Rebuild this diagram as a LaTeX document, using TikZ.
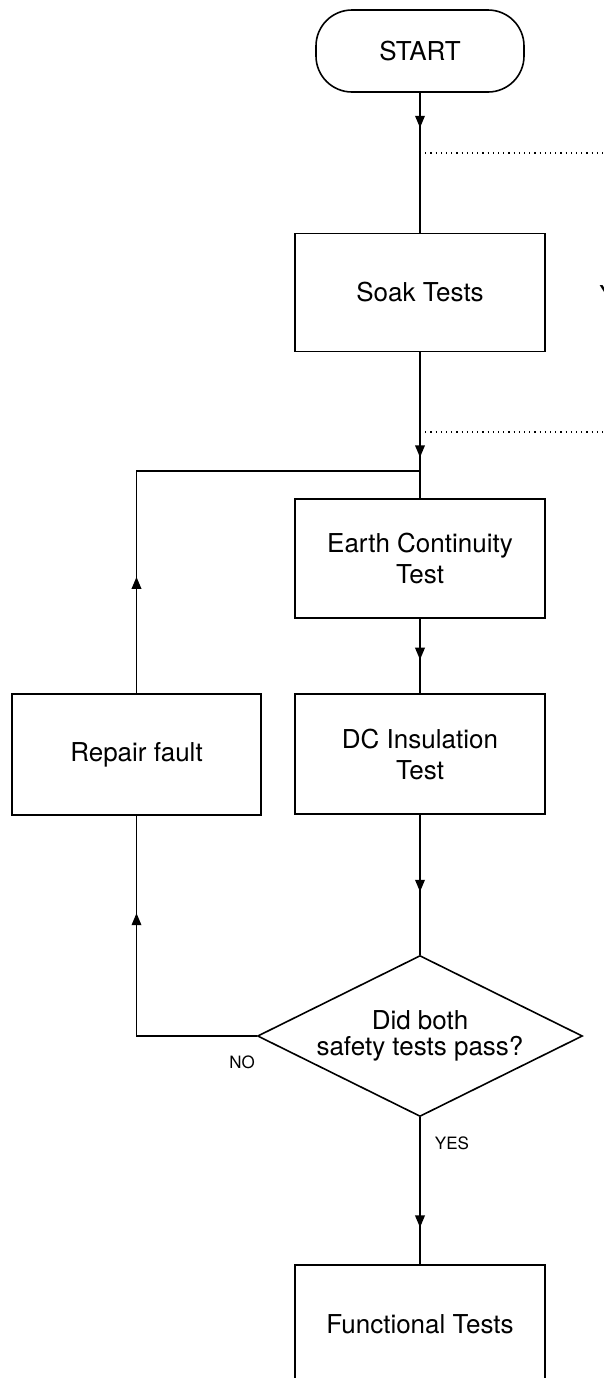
\documentclass[tikz,border=0pt]{standalone}
\usepackage{fontspec}
\setmainfont{TeX Gyre Heros}
\usetikzlibrary{shapes.geometric,arrows.meta,decorations.markings}

\tikzset{
  testbox/.style={draw, line width=0.8pt, minimum width=125pt, minimum height=59pt, inner sep=1pt, align=center, font=\fontsize{13}{15.5}\selectfont},
  midarrow/.style={postaction={decorate}, decoration={markings, mark=at position #1 with {\arrow{Triangle[length=6pt,width=4.8pt]}}}},
  flowline/.style={line width=0.8pt},
  smalllabel/.style={inner sep=0pt, font=\fontsize{8.5}{10}\selectfont}
}

\begin{document}
\begin{tikzpicture}[x=0.5pt,y=-0.5pt]
\useasboundingbox (0,0) rectangle (604,1378);

% Terminal
\node (start) at (420,51) [draw, line width=0.8pt, rounded corners=18pt, minimum width=104pt, minimum height=41pt, font=\fontsize{13}{15.5}\selectfont] {START};

% Boxes
\node (soak) at (420,292.5) [testbox] {Soak Tests};
\node (earth) at (420,558.5) [testbox, minimum height=59.5pt] {Earth Continuity\\Test};
\node (dc) at (420,754) [testbox, minimum height=60pt] {DC Insulation\\Test};
\node (repair) at (136.5,754.5) [testbox, minimum width=124.5pt, minimum height=60.5pt] {Repair fault};
\node (func) at (420,1324) [testbox] {Functional Tests};

% Decision
\node (pass) at (420,1036) [draw, line width=0.8pt, diamond, aspect=2, inner sep=0pt, minimum width=162.5pt, minimum height=80.5pt, align=center, font=\fontsize{13}{13}\selectfont] {Did both\\safety tests pass?};

% Text Node
\node (no) at (242,1062) [smalllabel] {NO};
% Text Node
\node (yes) at (452,1143) [smalllabel] {YES};
% Text Node (cut off at the edge)
\node (cut) at (599,304) [anchor=base west, inner sep=0pt, font=\fontsize{13}{15.5}\selectfont] {Y};

% Coordinates
\coordinate (dotA) at (420,153);
\coordinate (dotAend) at (604,153);
\coordinate (dotB) at (420,432);
\coordinate (dotBend) at (604,432);
\coordinate (join) at (420,471);

% Connection
\draw [flowline, midarrow=0.25] (start.south) -- (soak.north);
% Connection
\draw [flowline, midarrow=0.72] (soak.south) -- (earth.north);
% Connection
\draw [flowline, midarrow=0.55] (earth.south) -- (dc.north);
% Connection
\draw [flowline, midarrow=0.55] (dc.south) -- (pass.north);
% Connection
\draw [flowline, midarrow=0.75] (pass.south) -- (func.north);
% Connection
\draw [flowline, midarrow=0.714] (pass.west) -| (repair.south);
% Connection
\draw [flowline, midarrow=0.23] (repair.north) |- (join);

% Dotted lines
\draw [line width=0.6pt, dotted] (dotA) -- (dotAend);
\draw [line width=0.6pt, dotted] (dotB) -- (dotBend);

\end{tikzpicture}
\end{document}
